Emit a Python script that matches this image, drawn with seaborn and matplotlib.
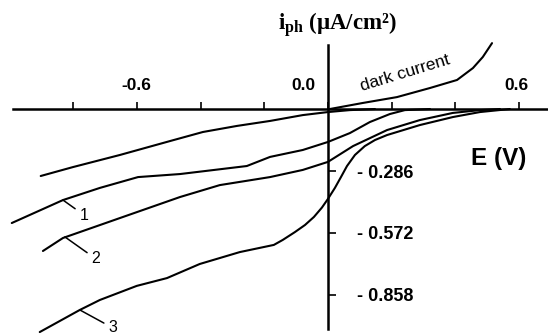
import matplotlib
matplotlib.use("Agg")
import matplotlib.pyplot as plt
import seaborn as sns
import pandas as pd
import numpy as np

# ---- data ----
E_A = [-0.903, -0.802, -0.654, -0.497, -0.393, -0.286, -0.182, -0.079, 0.0, 0.069, 0.148]
i_A = [-0.309, -0.268, -0.212, -0.148, -0.106, -0.078, -0.055, -0.028, -0.014, -0.005, 0.0]

E_1 = [-0.994, -0.833, -0.717, -0.597, -0.465, -0.255, -0.182, -0.079, 0.0, 0.069, 0.132, 0.195, 0.242, 0.321]
i_1 = [-0.526, -0.420, -0.364, -0.314, -0.300, -0.263, -0.221, -0.189, -0.152, -0.111, -0.060, -0.023, -0.005, 0.0]

E_2 = [-0.896, -0.833, -0.654, -0.465, -0.340, -0.182, -0.079, 0.0, 0.079, 0.186, 0.289, 0.393, 0.478, 0.541]
i_2 = [-0.655, -0.595, -0.503, -0.406, -0.351, -0.314, -0.281, -0.244, -0.171, -0.097, -0.051, -0.018, -0.005, 0.0]

E_3 = [-0.906, -0.780, -0.717, -0.601, -0.506, -0.403, -0.277, -0.170, -0.142, -0.104, -0.072, -0.044,
       -0.019, 0.0, 0.022, 0.041, 0.060, 0.085, 0.116, 0.148, 0.186, 0.289, 0.393, 0.478, 0.572]
i_3 = [-1.029, -0.927, -0.881, -0.816, -0.780, -0.715, -0.660, -0.627, -0.604, -0.568, -0.535, -0.498,
       -0.455, -0.415, -0.364, -0.314, -0.263, -0.212, -0.171, -0.143, -0.120, -0.074, -0.037, -0.014, 0.0]

E_dark = [0.006, 0.110, 0.217, 0.321, 0.406, 0.456, 0.487, 0.516]
i_dark = [0.0, 0.028, 0.055, 0.097, 0.134, 0.189, 0.240, 0.304]

x_minor_ticks = [-0.8, -0.4, -0.2, 0.2, 0.4]
x_label_values = [-0.6, 0.0, 0.6]
x_label_texts = ["-0.6", "0.0", "0.6"]
y_tick_values = [-0.286, -0.572, -0.858]
y_tick_texts = ["- 0.286", "- 0.572", "- 0.858"]
curve_names = ["0", "1", "2", "3", "dark"]
curve_labels = ["1", "2", "3"]
leader_E = [-0.833, -0.827, -0.780]
leader_i = [-0.420, -0.590, -0.927]

frames = []
for name, E, I in zip(curve_names, [E_A, E_1, E_2, E_3, E_dark], [i_A, i_1, i_2, i_3, i_dark]):
    frames.append(pd.DataFrame({"E": E, "i": I, "curve": name}))
df = pd.concat(frames, ignore_index=True)

sns.set_theme(style="white")
plt.rcParams["font.family"] = ["Liberation Sans", "DejaVu Sans"]
plt.rcParams["text.color"] = "black"
plt.rcParams["xtick.color"] = "black"
plt.rcParams["ytick.color"] = "black"
plt.rcParams["mathtext.fontset"] = "custom"
plt.rcParams["mathtext.rm"] = "Liberation Serif"
plt.rcParams["mathtext.bf"] = "Liberation Serif:bold"
plt.rcParams["mathtext.it"] = "Liberation Serif:italic"

fig = plt.figure(figsize=(5.48, 3.34), dpi=100)
ax = fig.add_axes([0, 0, 1, 1])

sns.lineplot(data=df, x="E", y="i", hue="curve", units="curve", estimator=None,
             palette=["black"] * len(curve_names), legend=False, linewidth=1.5, ax=ax,
             sort=False)

ax.set_xlim(-1.031, 0.692)
ax.set_ylim(-1.038, 0.503)
ax.set_xlabel("")
ax.set_ylabel("")
ax.set_facecolor("white")

for s in ["top", "right"]:
    ax.spines[s].set_visible(False)
ax.spines["left"].set_position(("data", 0))
ax.spines["bottom"].set_position(("data", 0))
ax.spines["left"].set_bounds(-1.015, 0.295)
ax.spines["bottom"].set_bounds(-0.99, 0.692)
for s in ["left", "bottom"]:
    ax.spines[s].set_color("black")
    ax.spines[s].set_linewidth(1.8)
    ax.spines[s].set_zorder(5)

# x ticks (labels drawn above the axis)
ax.set_xticks(x_label_values)
ax.set_xticks(x_minor_ticks, minor=True)
ax.set_xticklabels([])
ax.tick_params(axis="x", which="both", direction="in", length=5, width=1.2, color="black", bottom=True)
x_label_dx = [-1, -24, -2]
for v, t, dx in zip(x_label_values, x_label_texts, x_label_dx):
    ax.annotate(t, xy=(v, 0), xytext=(dx, 24), textcoords="offset pixels",
                ha="center", va="center", fontsize=12.5, fontweight="bold", color="black")

# y ticks on the right side of the vertical axis
ax.set_yticks(y_tick_values)
ax.set_yticklabels(y_tick_texts)
ax.tick_params(axis="y", direction="in", length=6, width=1.2, color="black", left=True,
               pad=-21, labelsize=13, labelcolor="black")
for lab in ax.get_yticklabels():
    lab.set_ha("left")
    lab.set_fontweight("bold")

# axis titles
ax.text(337, 334 - 25, r"$\mathbf{i}_{\mathbf{ph}}$ (μA/cm²)", transform=None, fontsize=16.5,
        fontweight="bold", family=["Liberation Serif", "DejaVu Serif"], ha="center", va="center",
        color="black")
ax.text(499, 334 - 158, "E (V)", transform=None, fontsize=17.5, fontweight="bold",
        ha="center", va="center", color="black")

# dark current label
ax.annotate("dark current", xy=(0.242, 0.166), ha="center", va="center",
            rotation=17, fontsize=12.5, color="black")

# curve labels with leader lines
label_offsets = [(21, -15), (31, -22), (33, -18)]
for lbl, e, iv, off in zip(curve_labels, leader_E, leader_i, label_offsets):
    ax.annotate(lbl, xy=(e, iv), xytext=off, textcoords="offset pixels",
                ha="center", va="center", fontsize=11.5, color="black",
                arrowprops=dict(arrowstyle="-", lw=1.1, color="black", shrinkA=1, shrinkB=0))

fig.savefig("out.png", dpi=100, facecolor="white")
